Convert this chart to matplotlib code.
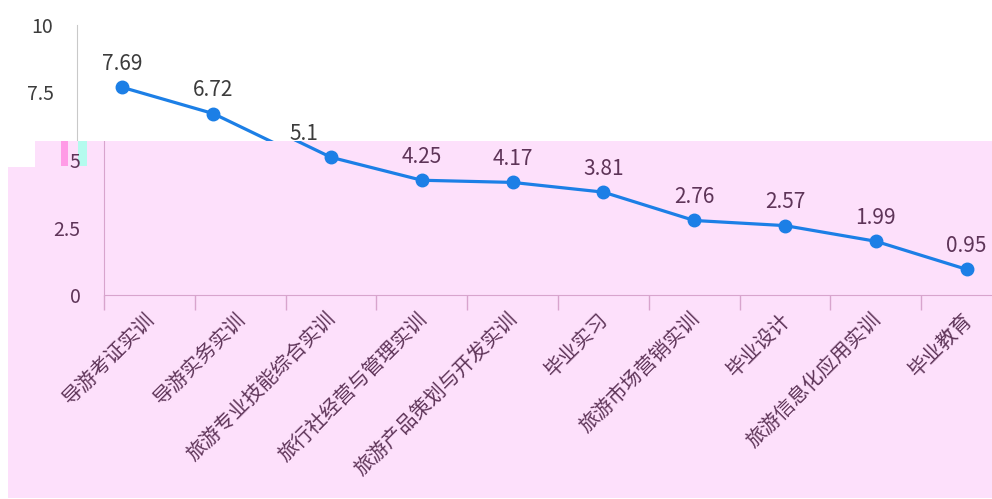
import matplotlib
matplotlib.use("Agg")
from matplotlib import pyplot as plt
from matplotlib.patches import Rectangle
from matplotlib.transforms import Bbox, TransformedBbox, ScaledTranslation

plt.rcParams['font.family'] = ['Noto Sans CJK SC', 'DejaVu Sans']

courses = ['导游考证实训', '导游实务实训', '旅游专业技能综合实训', '旅行社经营与管理实训',
           '旅游产品策划与开发实训', '毕业实习', '旅游市场营销实训', '毕业设计',
           '旅游信息化应用实训', '毕业教育']
scores = [7.69, 6.72, 5.1, 4.25, 4.17, 3.81, 2.76, 2.57, 1.99, 0.95]
y_ticks = [0, 2.5, 5, 7.5, 10]
y_labels = ['0', '2.5', '5', '7.5', '10']

W, H = 992, 499
PINK = '#fde0fb'
BLUE = '#1c7fe6'

fig = plt.figure(figsize=(W / 100, H / 100), dpi=100)
fig.patch.set_facecolor('white')


def px_box(x0, y0, x1, y1):
    # pixel box, y measured from the top
    return Bbox.from_extents(x0 / W, 1 - y1 / H, x1 / W, 1 - y0 / H)


# pink band over the lower part of the picture
fig.add_artist(Rectangle((35 / W, 1 - 498 / H), 957 / W, 357 / H, transform=fig.transFigure,
                         facecolor=PINK, edgecolor='none', zorder=0))
fig.add_artist(Rectangle((8 / W, 1 - 498 / H), 27 / W, 331 / H, transform=fig.transFigure,
                         facecolor=PINK, edgecolor='none', zorder=0))
# small colour smears left of the axis
fig.add_artist(Rectangle((61 / W, 1 - 166 / H), 7 / W, 25 / H, transform=fig.transFigure,
                         facecolor='#ff9be6', edgecolor='none', zorder=0))
fig.add_artist(Rectangle((78 / W, 1 - 166 / H), 9 / W, 25 / H, transform=fig.transFigure,
                         facecolor='#b4fbee', edgecolor='none', zorder=0))


def make_axes(left_px, text_col, spine_col, clip):
    ax = fig.add_axes([left_px / W, 1 - 295 / H, 908 / W, 270 / H])
    ax.patch.set_alpha(0)
    x = list(range(len(courses)))
    ax.plot(x, scores, color=BLUE, lw=2.3, marker='o', ms=9)
    for xi, v in zip(x, scores):
        ax.annotate(f'{v:g}', (xi, v), xytext=(0, 9), textcoords='offset points',
                    ha='center', va='bottom', fontsize=15, color=text_col)
    ax.set_xlim(-0.5, len(courses) - 0.5)
    ax.set_ylim(0, 10)
    ax.set_yticks(y_ticks, y_labels)
    ax.tick_params(axis='y', length=0, pad=17, labelsize=14, labelcolor=text_col)
    ax.set_xticks(x, courses, rotation=45, ha='right', rotation_mode='anchor')
    ax.set_xticks([i - 0.5 for i in range(len(courses) + 1)], minor=True)
    ax.tick_params(axis='x', which='major', length=0, pad=10, labelsize=14.5,
                   labelcolor=text_col)
    ax.tick_params(axis='x', which='minor', length=11, width=1, color=spine_col)
    for s in ['top', 'right']:
        ax.spines[s].set_visible(False)
    for s in ['left', 'bottom']:
        ax.spines[s].set_color(spine_col)
    return ax, clip


ax_low, clip_low = make_axes(104, '#5e3458', '#d8a4cd', px_box(35, 141, W, 498))
ax_up, clip_up = make_axes(77, '#3c3c3c', '#c9c9c9', px_box(0, 0, W, 141))

fig.canvas.draw()
shift = ScaledTranslation(-5 / 100, 0, fig.dpi_scale_trans)
for ax, box in [(ax_low, clip_low), (ax_up, clip_up)]:
    for lab in ax.get_xticklabels():
        lab.set_transform(lab.get_transform() + shift)
    tb = TransformedBbox(box, fig.transFigure)
    for art in ax.findobj():
        if art is ax or art is ax.patch:
            continue
        art.set_clip_on(True)
        art.set_clip_box(tb)

fig.savefig('out.png', dpi=100)
